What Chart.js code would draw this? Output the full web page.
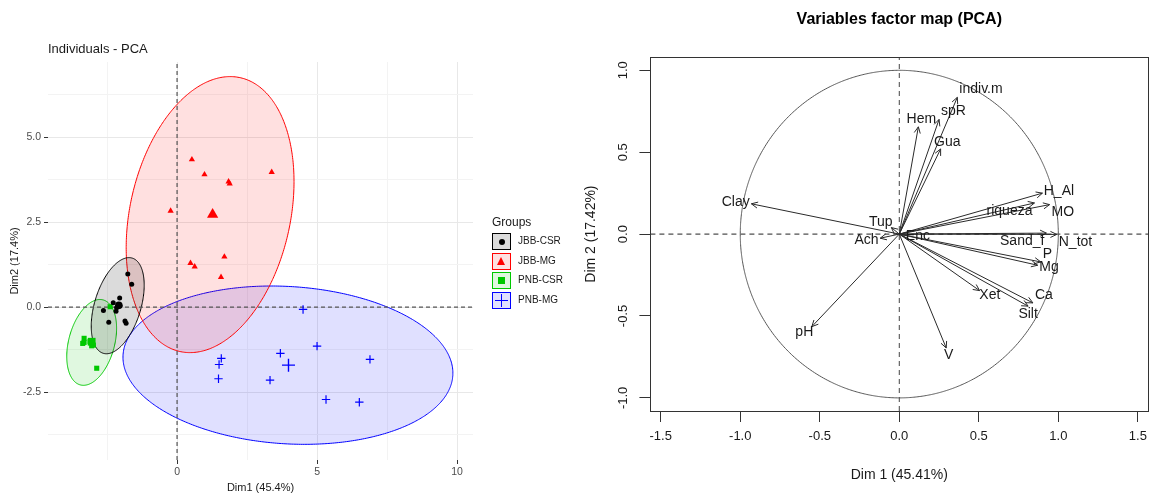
<!DOCTYPE html>
<html>
<head>
<meta charset="utf-8">
<script src="https://cdn.jsdelivr.net/npm/chart.js@4.4.1/dist/chart.umd.min.js"></script>
<style>
  body { margin: 0; background: #fff; width: 1154px; height: 496px; position: relative; overflow: hidden;
         font-family: "Liberation Sans", Arial, sans-serif; }
  #leftBox { position: absolute; left: 0; top: 0; width: 580px; height: 496px; }
  #rightBox { position: absolute; left: 580px; top: 0; width: 574px; height: 496px; }
  #legend { position: absolute; left: 492px; top: 213px; color: #1a1a1a; }
  #legend .ttl { font-size: 12px; height: 19px; line-height: 19px; }
  #legend .item { position: relative; height: 19.6px; }
  #legend .key { position: absolute; left: 0; top: 1px; width: 17px; height: 15px; border: 1px solid; }
  #legend .lab { position: absolute; left: 26px; top: 0; font-size: 10px; line-height: 18px; white-space: nowrap; }
  .sym { position: absolute; }
</style>
</head>
<body>
<div id="leftBox"><canvas id="left"></canvas></div>
<div id="rightBox"><canvas id="right"></canvas></div>
<div id="legend"></div>
<script>
// ---------- individuals (left panel) ----------
const groups = ['JBB-CSR', 'JBB-MG', 'PNB-CSR', 'PNB-MG'];

const jbbCsrX = [-1.76, -1.62, -2.05, -2.28, -2.04, -2.16, -2.18, -2.63, -2.44, -1.86, -1.82];
const jbbCsrY = [0.97, 0.67, 0.27, 0.13, 0.03, -0.02, -0.12, -0.10, -0.45, -0.41, -0.48];
const jbbMgX = [0.53, 0.98, 3.38, 1.88, 1.84, -0.23, 1.69, 0.48, 0.63, 1.57];
const jbbMgY = [4.34, 3.90, 3.97, 3.63, 3.69, 2.83, 1.48, 1.29, 1.19, 0.88];
const pnbCsrX = [-3.32, -3.32, -3.37, -3.11, -3.03, -2.99, -3.05, -2.87, -2.39];
const pnbCsrY = [-0.92, -1.04, -1.07, -1.02, -1.04, -1.12, -1.14, -1.80, 0.01];
const pnbMgX = [4.50, 5.00, 3.69, 1.58, 1.50, 1.48, 3.32, 6.89, 5.32, 6.51];
const pnbMgY = [-0.07, -1.15, -1.36, -1.51, -1.69, -2.11, -2.15, -1.54, -2.72, -2.80];

// group means (big symbols)
const centroidX = [-2.08, 1.27, -3.05, 3.98];
const centroidY = [0.05, 2.72, -1.02, -1.71];

// confidence ellipses: centre and the two semi-axis vectors
const ellCx = [-2.12, 1.18, -3.05, 3.96];
const ellCy = [0.04, 2.72, -1.04, -1.71];
const ellUx = [0.52, 1.07, 0.41, 5.89];
const ellUy = [1.40, 4.03, 1.25, -0.30];
const ellVx = [0.79, 2.80, 0.79, -0.17];
const ellVy = [-0.20, -0.50, -0.18, -2.31];

// ---------- variables (right panel) ----------
const varNames = ['Clay', 'Tup', 'Ach', 'Enc', 'Hem', 'spR', 'indiv.m', 'Gua', 'H_Al', 'riqueza',
                  'MO', 'Sand_f', 'N_tot', 'P', 'Mg', 'Xet', 'Ca', 'Silt', 'V', 'pH'];
const varDim1 = [-0.93, -0.05, -0.12, 0.03, 0.12, 0.25, 0.365, 0.26, 0.90, 0.85,
                 0.945, 0.925, 0.99, 0.89, 0.87, 0.505, 0.84, 0.81, 0.295, -0.55];
const varDim2 = [0.185, 0.04, -0.025, -0.005, 0.655, 0.70, 0.835, 0.52, 0.25, 0.19,
                 0.18, 0.006, -0.002, -0.17, -0.19, -0.345, -0.42, -0.44, -0.695, -0.565];

const colors = ['#000000', '#ff0000', '#00c800', '#0000ff'];
const fills = ['rgba(0,0,0,0.14)', 'rgba(255,0,0,0.12)', 'rgba(0,200,0,0.12)', 'rgba(0,0,255,0.12)'];
const FONT = '"Liberation Sans", Arial, sans-serif';

function zip(xs, ys) { return xs.map((x, i) => ({ x: x, y: ys[i] })); }

function ellipse(g) {
  const pts = [];
  const n = 120;
  for (let i = 0; i <= n; i++) {
    const t = 2 * Math.PI * i / n;
    pts.push({
      x: ellCx[g] + ellUx[g] * Math.cos(t) + ellVx[g] * Math.sin(t),
      y: ellCy[g] + ellUy[g] * Math.cos(t) + ellVy[g] * Math.sin(t)
    });
  }
  return pts;
}

const L_XMIN = -4.61, L_XMAX = 10.57, L_YMIN = -4.5, L_YMAX = 7.21;
const groupPts = [zip(jbbCsrX, jbbCsrY), zip(jbbMgX, jbbMgY), zip(pnbCsrX, pnbCsrY), zip(pnbMgX, pnbMgY)];
const shapes = ['circle', 'triangle', 'rect', 'cross'];
const smallR = [2.5, 3.6, 3.6, 4.2];
const bigR = [3.8, 6.5, 5.5, 6.5];

const leftSets = [];
groups.forEach((g, i) => {
  // small tension keeps Chart.js off its x-sorted fast path, which breaks closed curves
  leftSets.push({ data: ellipse(i), showLine: true, fill: 'shape', backgroundColor: fills[i],
    borderColor: colors[i], borderWidth: 1, pointRadius: 0, tension: 0.2, order: 10 });
});
leftSets.push({ data: [{ x: 0, y: L_YMIN }, { x: 0, y: L_YMAX }], showLine: true, borderColor: '#555',
  borderWidth: 1.2, borderDash: [4, 3], pointRadius: 0, order: 5 });
leftSets.push({ data: [{ x: L_XMIN, y: 0 }, { x: L_XMAX, y: 0 }], showLine: true, borderColor: '#555',
  borderWidth: 1.2, borderDash: [4, 3], pointRadius: 0, order: 5 });
groups.forEach((g, i) => {
  leftSets.push({ label: g, data: groupPts[i], pointStyle: shapes[i], pointRadius: smallR[i],
    backgroundColor: colors[i], borderColor: colors[i], borderWidth: i === 3 ? 1.2 : 0, order: 2 });
  leftSets.push({ data: [{ x: centroidX[i], y: centroidY[i] }], pointStyle: shapes[i], pointRadius: bigR[i],
    backgroundColor: colors[i], borderColor: colors[i], borderWidth: i === 3 ? 1.4 : 0, order: 1 });
});

function isMult(v, s) { return Math.abs(v / s - Math.round(v / s)) < 1e-6; }

new Chart(document.getElementById('left'), {
  type: 'scatter',
  data: { datasets: leftSets },
  options: {
    responsive: true, maintainAspectRatio: false, animation: false, devicePixelRatio: 1, events: [],
    layout: { padding: { left: 0, right: 107, top: 0, bottom: 0 } },
    plugins: {
      legend: { display: false }, tooltip: { enabled: false },
      title: { display: true, text: 'Individuals - PCA', align: 'start', fullSize: false, color: '#1a1a1a',
        font: { family: FONT, size: 13, weight: 'normal' }, padding: { top: 42, bottom: 4.4 } }
    },
    scales: {
      x: {
        type: 'linear', min: L_XMIN, max: L_XMAX,
        afterFit: s => { s.height = 36; },
        border: { display: false },
        grid: {
          color: c => isMult(c.tick.value, 5) ? '#e8e8e8' : '#f3f3f3',
          tickColor: c => isMult(c.tick.value, 5) ? '#333' : 'rgba(0,0,0,0)',
          tickLength: 4, lineWidth: 1
        },
        ticks: { stepSize: 2.5, includeBounds: false, autoSkip: false, maxRotation: 0, padding: 2,
          color: '#4d4d4d', font: { family: FONT, size: 10.5 },
          callback: v => isMult(v, 5) ? String(v) : '' },
        title: { display: true, text: 'Dim1 (45.4%)', color: '#1a1a1a', font: { family: FONT, size: 11 },
          padding: { top: 0, bottom: 1 } }
      },
      y: {
        type: 'linear', min: L_YMIN, max: L_YMAX,
        afterFit: s => { s.width = 48; },
        border: { display: false },
        grid: {
          color: c => isMult(c.tick.value, 2.5) ? '#e8e8e8' : '#f3f3f3',
          tickColor: c => isMult(c.tick.value, 2.5) ? '#333' : 'rgba(0,0,0,0)',
          tickLength: 4, lineWidth: 1
        },
        ticks: { stepSize: 1.25, includeBounds: false, autoSkip: false, padding: 3,
          color: '#4d4d4d', font: { family: FONT, size: 10.5 },
          callback: v => isMult(v, 2.5) ? v.toFixed(1) : '' },
        title: { display: true, text: 'Dim2 (17.4%)', color: '#1a1a1a', font: { family: FONT, size: 11 },
          padding: { top: 8, bottom: 0 } }
      }
    }
  }
});

// legend (ggplot style keys)
const legend = document.getElementById('legend');
let html = '<div class="ttl">Groups</div>';
const symHtml = [
  '<div class="sym" style="left:5.5px;top:4.5px;width:6px;height:6px;border-radius:50%;background:#000"></div>',
  '<div class="sym" style="left:4px;top:3px;width:0;height:0;border-left:4.5px solid transparent;border-right:4.5px solid transparent;border-bottom:8px solid #f00"></div>',
  '<div class="sym" style="left:5px;top:4px;width:7px;height:7px;background:#00c800"></div>',
  '<div class="sym" style="left:2px;top:7px;width:13px;height:1.3px;background:#00f"></div><div class="sym" style="left:7.9px;top:1px;width:1.3px;height:13px;background:#00f"></div>'
];
groups.forEach((g, i) => {
  html += '<div class="item"><div class="key" style="border-color:' + colors[i] + ';background:' + fills[i] + '">' +
    symHtml[i] + '</div><div class="lab">' + g + '</div></div>';
});
legend.innerHTML = html;

// ---------- right panel ----------
const R_XMIN = -1.565, R_XMAX = 1.565, R_YMIN = -1.08, R_YMAX = 1.08;
const circle = [];
for (let i = 0; i <= 240; i++) {
  const t = 2 * Math.PI * i / 240;
  circle.push({ x: Math.cos(t), y: Math.sin(t) });
}
const rightSets = [
  { data: circle, showLine: true, borderColor: '#555', borderWidth: 1, pointRadius: 0, tension: 0.2, order: 5 },
  { data: [{ x: 0, y: R_YMIN }, { x: 0, y: R_YMAX }], showLine: true, borderColor: '#444', borderWidth: 1,
    borderDash: [5, 4], pointRadius: 0, order: 5 },
  { data: [{ x: R_XMIN, y: 0 }, { x: R_XMAX, y: 0 }], showLine: true, borderColor: '#222', borderWidth: 1,
    borderDash: [5, 4], pointRadius: 0, order: 5 }
];
varNames.forEach((n, i) => {
  rightSets.push({ label: n, isArrow: true, data: [{ x: 0, y: 0 }, { x: varDim1[i], y: varDim2[i] }],
    showLine: true, borderColor: '#2a2a2a', borderWidth: 1, pointRadius: 0, order: 1 });
});

// where each label sits relative to its arrow tip (default: along the arrow)
const labelSide = { 'spR': 'ne', 'indiv.m': 'ne', 'riqueza': 'sw', 'MO': 'se', 'Sand_f': 'sw',
  'N_tot': 'se', 'P': 'ne', 'Ca': 'ne', 'Silt': 's' };
const sideVec = { e: [1, 0], w: [-1, 0], n: [0, -1], s: [0, 1], ne: [1, -1], nw: [-1, -1], se: [1, 1], sw: [-1, 1] };

const varPlugin = {
  id: 'varPlugin',
  afterDatasetsDraw(chart) {
    const ctx = chart.ctx;
    ctx.save();
    ctx.font = '14px ' + FONT;
    ctx.textAlign = 'center';
    ctx.textBaseline = 'middle';
    chart.data.datasets.forEach((ds, i) => {
      if (!ds.isArrow) return;
      const meta = chart.getDatasetMeta(i);
      const p0 = meta.data[0], p1 = meta.data[1];
      const ang = Math.atan2(p1.y - p0.y, p1.x - p0.x);
      const len = Math.hypot(p1.x - p0.x, p1.y - p0.y);
      if (len > 6) {
        const hl = 7, ha = Math.PI / 7;
        ctx.strokeStyle = '#2a2a2a';
        ctx.lineWidth = 1;
        ctx.beginPath();
        ctx.moveTo(p1.x - hl * Math.cos(ang - ha), p1.y - hl * Math.sin(ang - ha));
        ctx.lineTo(p1.x, p1.y);
        ctx.lineTo(p1.x - hl * Math.cos(ang + ha), p1.y - hl * Math.sin(ang + ha));
        ctx.stroke();
      }
      const w = ctx.measureText(ds.label).width, h = 14;
      let dx, dy;
      if (labelSide[ds.label]) {
        [dx, dy] = sideVec[labelSide[ds.label]];
      } else {
        dx = Math.cos(ang); dy = Math.sin(ang);
      }
      ctx.fillStyle = '#1a1a1a';
      ctx.fillText(ds.label, p1.x + dx * (w / 2 + 2), p1.y + dy * (h / 2 + 1));
    });
    ctx.restore();
  },
  afterDraw(chart) {
    const ctx = chart.ctx;
    const a = chart.chartArea;
    ctx.save();
    ctx.strokeStyle = '#333';
    ctx.lineWidth = 1;
    ctx.strokeRect(Math.round(a.left) + 0.5, Math.round(a.top) + 0.5, Math.round(a.right - a.left), Math.round(a.bottom - a.top));
    const ys = chart.scales.y;
    ctx.font = '13px ' + FONT;
    ctx.fillStyle = '#1a1a1a';
    ctx.textAlign = 'center';
    ctx.textBaseline = 'middle';
    ys.ticks.forEach(t => {
      const y = ys.getPixelForValue(t.value);
      ctx.save();
      ctx.translate(a.left - 27, y);
      ctx.rotate(-Math.PI / 2);
      ctx.fillText(t.value.toFixed(1), 0, 0);
      ctx.restore();
    });
    ctx.restore();
  }
};

new Chart(document.getElementById('right'), {
  type: 'scatter',
  data: { datasets: rightSets },
  plugins: [varPlugin],
  options: {
    responsive: true, maintainAspectRatio: false, animation: false, devicePixelRatio: 1, events: [],
    layout: { padding: { left: 0, right: 3, top: 0, bottom: 0 } },
    plugins: {
      legend: { display: false }, tooltip: { enabled: false },
      title: { display: true, text: 'Variables factor map (PCA)', align: 'center', fullSize: false, color: '#000',
        font: { family: FONT, size: 16, weight: 'bold' }, padding: { top: 10, bottom: 28 } }
    },
    scales: {
      x: {
        type: 'linear', min: R_XMIN, max: R_XMAX,
        afterFit: s => { s.height = 85; },
        border: { display: false },
        grid: { drawOnChartArea: false, tickLength: 11, tickColor: '#333', tickWidth: 1 },
        ticks: { stepSize: 0.5, includeBounds: false, autoSkip: false, maxRotation: 0, padding: 7,
          color: '#1a1a1a', font: { family: FONT, size: 13 }, callback: v => v.toFixed(1) },
        title: { display: true, text: 'Dim 1 (45.41%)', color: '#1a1a1a', font: { family: FONT, size: 14 },
          padding: { top: 0, bottom: 12 } }
      },
      y: {
        type: 'linear', min: R_YMIN, max: R_YMAX,
        afterFit: s => { s.width = 70.4; },
        border: { display: false },
        grid: { drawOnChartArea: false, tickLength: 11, tickColor: '#333', tickWidth: 1 },
        ticks: { stepSize: 0.5, includeBounds: false, autoSkip: false, display: false },
        title: { display: true, text: 'Dim 2 (17.42%)', color: '#1a1a1a', font: { family: FONT, size: 14 },
          padding: { top: 3, bottom: 0 } }
      }
    }
  }
});
</script>
</body>
</html>
